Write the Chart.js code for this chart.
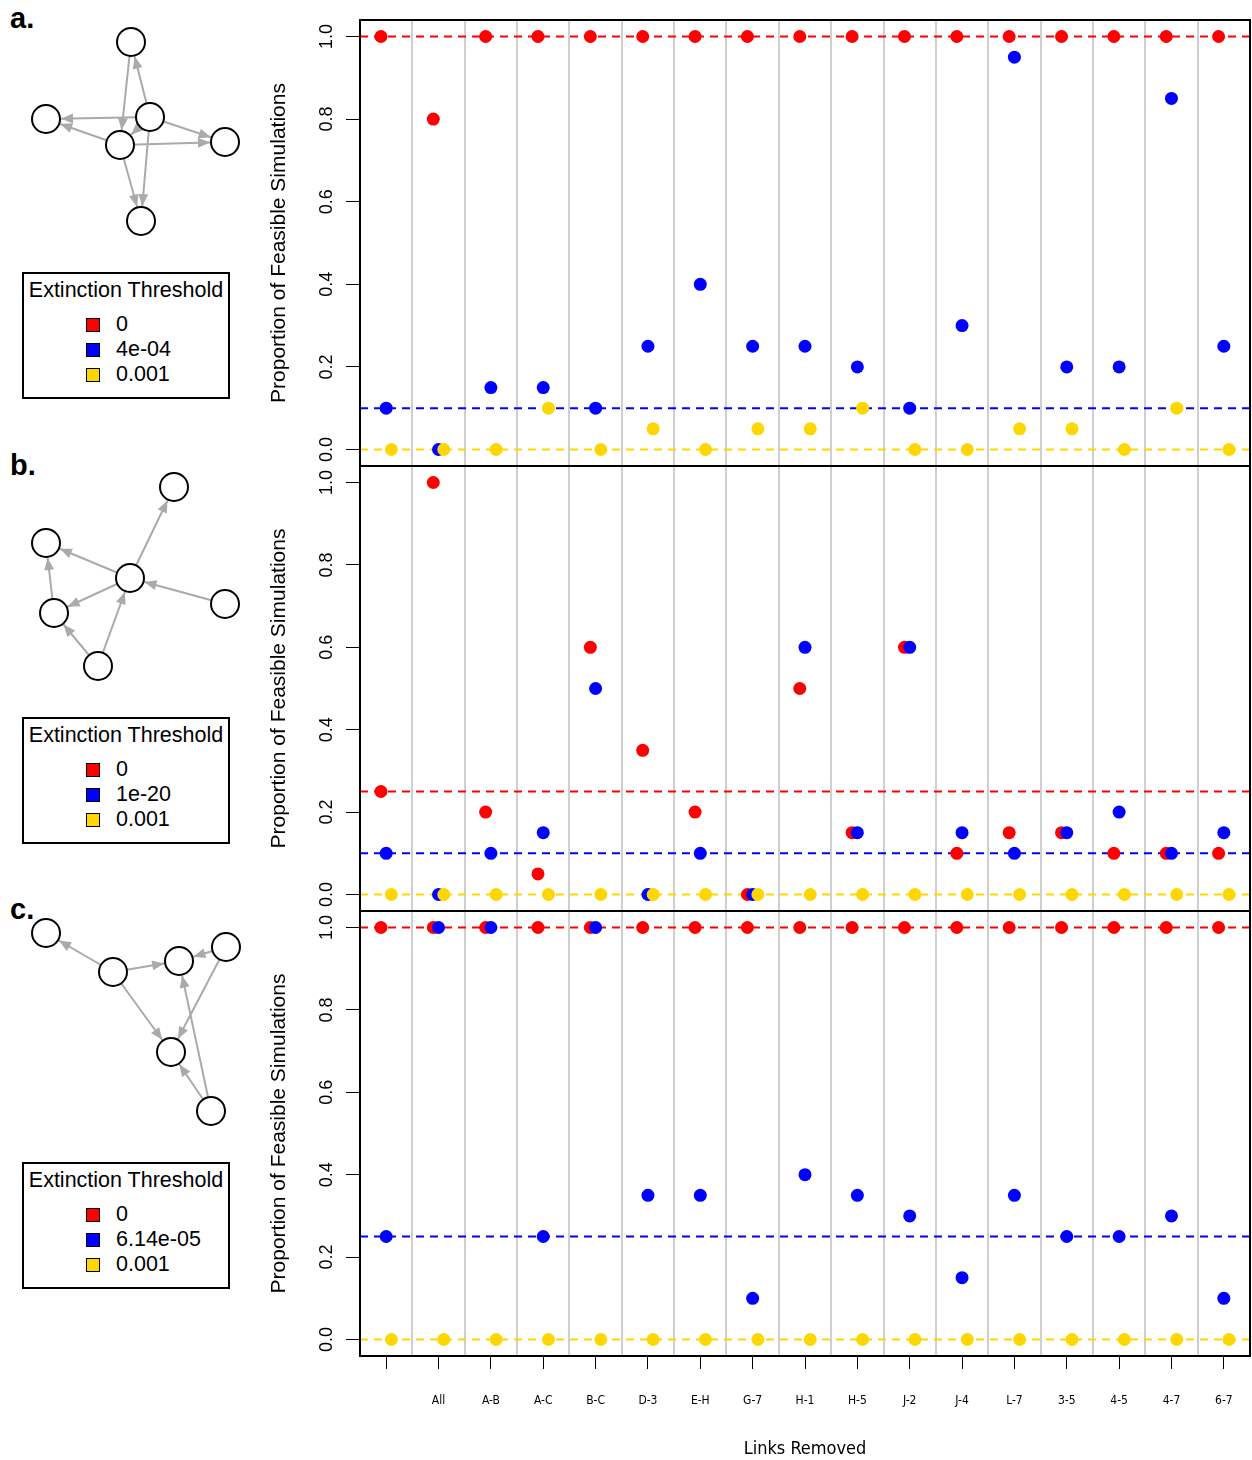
<!DOCTYPE html>
<html>
<head>
<meta charset="utf-8">
<script src="https://cdn.jsdelivr.net/npm/chart.js@4.4.1/dist/chart.umd.min.js"></script>
<style>
  body { margin: 0; background: #fff; width: 1252px; height: 1460px; position: relative; overflow: hidden;
         font-family: 'Liberation Sans', Arial, sans-serif; color: #000; }
  canvas { position: absolute; }
  .tag { position: absolute; left: 10px; font: bold 29px 'Liberation Sans', Arial, sans-serif; line-height: 30px; }
  .leg { position: absolute; left: 22px; width: 204px; height: 123px; border: 2px solid #000; }
  .leg .ttl { position: absolute; left: 0; right: 0; top: 4px; text-align: center; font-size: 21.5px; line-height: 24px; white-space: nowrap; }
  .leg .row { position: absolute; left: 62px; font-size: 21.5px; height: 24px; line-height: 24px; white-space: nowrap; }
  .leg .sw { display: inline-block; width: 12px; height: 12px; border: 1.5px solid #000; vertical-align: -1px; margin-right: 16px; }
</style>
</head>
<body>
<div class="tag" style="top:3px">a.</div>
<div class="tag" style="top:450px">b.</div>
<div class="tag" style="top:894px">c.</div>

<canvas id="netA" width="255" height="250" style="left:0;top:0"></canvas>
<canvas id="netB" width="255" height="250" style="left:0;top:445px"></canvas>
<canvas id="netC" width="255" height="250" style="left:0;top:890px"></canvas>

<div class="leg" id="legA" style="top:272px"></div>
<div class="leg" id="legB" style="top:717px"></div>
<div class="leg" id="legC" style="top:1162px"></div>

<canvas id="plotA" width="1002" height="486" style="left:250px;top:0"></canvas>
<canvas id="plotB" width="1002" height="485" style="left:250px;top:446px"></canvas>
<canvas id="plotC" width="1002" height="569" style="left:250px;top:891px"></canvas>

<script>
// ===== DATA =====
const linkLabels = ['', 'All', 'A-B', 'A-C', 'B-C', 'D-3', 'E-H', 'G-7', 'H-1', 'H-5', 'J-2', 'J-4', 'L-7', '3-5', '4-5', '4-7', '6-7'];
const yTicks = [0, 0.2, 0.4, 0.6, 0.8, 1.0];

// panel a
const redA    = [1, 0.8, 1, 1, 1, 1, 1, 1, 1, 1, 1, 1, 1, 1, 1, 1, 1];
const blueA   = [0.1, 0, 0.15, 0.15, 0.1, 0.25, 0.4, 0.25, 0.25, 0.2, 0.1, 0.3, 0.95, 0.2, 0.2, 0.85, 0.25];
const yellowA = [0, 0, 0, 0.1, 0, 0.05, 0, 0.05, 0.05, 0.1, 0, 0, 0.05, 0.05, 0, 0.1, 0];
const baseA   = [1, 0.1, 0];
const threshA = ['0', '4e-04', '0.001'];

// panel b
const redB    = [0.25, 1, 0.2, 0.05, 0.6, 0.35, 0.2, 0, 0.5, 0.15, 0.6, 0.1, 0.15, 0.15, 0.1, 0.1, 0.1];
const blueB   = [0.1, 0, 0.1, 0.15, 0.5, 0, 0.1, 0, 0.6, 0.15, 0.6, 0.15, 0.1, 0.15, 0.2, 0.1, 0.15];
const yellowB = [0, 0, 0, 0, 0, 0, 0, 0, 0, 0, 0, 0, 0, 0, 0, 0, 0];
const baseB   = [0.25, 0.1, 0];
const threshB = ['0', '1e-20', '0.001'];

// panel c
const redC    = [1, 1, 1, 1, 1, 1, 1, 1, 1, 1, 1, 1, 1, 1, 1, 1, 1];
const blueC   = [0.25, 1, 1, 0.25, 1, 0.35, 0.35, 0.1, 0.4, 0.35, 0.3, 0.15, 0.35, 0.25, 0.25, 0.3, 0.1];
const yellowC = [0, 0, 0, 0, 0, 0, 0, 0, 0, 0, 0, 0, 0, 0, 0, 0, 0];
const baseC   = [1, 0.25, 0];
const threshC = ['0', '6.14e-05', '0.001'];

// network layouts (node x, y inside each diagram) and directed edges [from, to]
const nodesA = [[131, 42], [46, 119], [150, 117], [120, 145], [225, 142], [141, 221]];
const edgesA = [[2, 0], [0, 3], [2, 1], [3, 1], [2, 4], [3, 4], [3, 5], [2, 5], [2, 3]];
const nodesB = [[174, 42], [46, 98], [130, 133], [225, 159], [54, 168], [98, 221]];
const edgesB = [[2, 0], [2, 1], [3, 2], [2, 4], [4, 1], [5, 4], [5, 2]];
const nodesC = [[46, 43], [113, 82], [179, 71], [226, 57], [171, 162], [211, 221]];
const edgesC = [[1, 0], [1, 2], [3, 2], [1, 4], [3, 4], [5, 2], [5, 4]];

// ===== STYLE =====
const RED = '#ff0000', BLUE = '#0000ff', GOLD = '#ffd700';
const SANS = "'Liberation Sans', Arial, sans-serif";
const NARROW = "'Liberation Sans Narrow', 'DejaVu Sans Condensed', sans-serif";
const NODE_R = 14;

// ===== LEGENDS =====
function buildLegend(id, labels) {
    const el = document.getElementById(id);
    let html = '<div class="ttl">Extinction Threshold</div>';
    [RED, BLUE, GOLD].forEach((c, i) => {
        html += `<div class="row" style="top:${38 + i * 25}px"><span class="sw" style="background:${c}"></span>${labels[i]}</div>`;
    });
    el.innerHTML = html;
}
buildLegend('legA', threshA);
buildLegend('legB', threshB);
buildLegend('legC', threshC);

// ===== NETWORK DIAGRAMS =====
function makeNetwork(id, nodes, edges) {
    const arrows = {
        id: 'arrows',
        beforeDatasetDraw(chart, args) {
            if (args.index !== 0) return;
            const { ctx } = chart;
            const sx = chart.scales.x, sy = chart.scales.y;
            ctx.save();
            ctx.fillStyle = '#aaaaaa';
            edges.forEach(([a, b]) => {
                const x0 = sx.getPixelForValue(nodes[a][0]), y0 = sy.getPixelForValue(nodes[a][1]);
                const x1 = sx.getPixelForValue(nodes[b][0]), y1 = sy.getPixelForValue(nodes[b][1]);
                const len = Math.hypot(x1 - x0, y1 - y0);
                const ux = (x1 - x0) / len, uy = (y1 - y0) / len;
                const tx = x1 - ux * (NODE_R + 1), ty = y1 - uy * (NODE_R + 1);
                const bx = tx - ux * 12, by = ty - uy * 12;
                ctx.beginPath();
                ctx.moveTo(tx, ty);
                ctx.lineTo(bx - uy * 5, by + ux * 5);
                ctx.lineTo(bx + uy * 5, by - ux * 5);
                ctx.closePath();
                ctx.fill();
            });
            ctx.restore();
        }
    };

    const datasets = [{
        data: nodes.map(([x, y]) => ({ x, y })),
        pointRadius: NODE_R,
        backgroundColor: '#ffffff',
        borderColor: '#000000',
        borderWidth: 2,
        order: 1,
        clip: false
    }];
    edges.forEach(([a, b]) => {
        datasets.push({
            data: [{ x: nodes[a][0], y: nodes[a][1] }, { x: nodes[b][0], y: nodes[b][1] }],
            showLine: true,
            borderColor: '#aaaaaa',
            borderWidth: 2,
            pointRadius: 0,
            order: 2,
            clip: false
        });
    });

    new Chart(document.getElementById(id), {
        type: 'scatter',
        data: { datasets },
        plugins: [arrows],
        options: {
            responsive: false,
            animation: false,
            events: [],
            layout: { padding: 0, autoPadding: false },
            plugins: { legend: { display: false }, tooltip: { enabled: false } },
            scales: {
                x: { type: 'linear', min: 0, max: 255, display: false },
                y: { type: 'linear', min: 0, max: 250, reverse: true, display: false }
            }
        }
    });
}
makeNetwork('netA', nodesA, edgesA);
makeNetwork('netB', nodesB, edgesB);
makeNetwork('netC', nodesC, edgesC);

// ===== SCATTER PANELS =====
const boxPlugin = {
    id: 'box',
    afterDraw(chart) {
        const { ctx, chartArea: a } = chart;
        ctx.save();
        ctx.strokeStyle = '#000';
        ctx.lineWidth = 2;
        ctx.strokeRect(a.left, a.top, a.right - a.left, a.bottom - a.top);
        ctx.restore();
    }
};

function pts(vals, dx) {
    return vals.map((v, i) => ({ x: i + 1 + dx, y: v }));
}
function hline(v, color) {
    return {
        data: [{ x: 0.5, y: v }, { x: 17.5, y: v }],
        showLine: true,
        borderColor: color,
        borderWidth: 2,
        borderDash: [8, 6],
        pointRadius: 0,
        order: 4
    };
}
function dots(vals, dx, color, order) {
    return { data: pts(vals, dx), backgroundColor: color, borderWidth: 0, pointRadius: 6.5, order };
}

function makePanel(id, red, blue, yellow, base, showX) {
    new Chart(document.getElementById(id), {
        type: 'scatter',
        data: {
            datasets: [
                dots(yellow, 0.1, GOLD, 1),
                dots(blue, 0, BLUE, 2),
                dots(red, -0.1, RED, 3),
                hline(base[0], RED),
                hline(base[1], BLUE),
                hline(base[2], GOLD)
            ]
        },
        plugins: [boxPlugin],
        options: {
            responsive: false,
            animation: false,
            events: [],
            layout: { padding: { top: 20, bottom: showX ? 0 : 20, left: 0, right: 2 }, autoPadding: false },
            plugins: { legend: { display: false }, tooltip: { enabled: false } },
            scales: {
                x: {
                    type: 'linear', min: 0.5, max: 17.5, display: showX,
                    afterBuildTicks: s => { s.ticks = linkLabels.map((_, i) => ({ value: i + 1 })); },
                    ticks: {
                        autoSkip: false, maxRotation: 0, color: '#000', padding: 25,
                        font: { family: NARROW, size: 12 },
                        callback: v => linkLabels[Math.round(v) - 1]
                    },
                    grid: { drawOnChartArea: false, tickLength: 13, color: '#000', lineWidth: 1 },
                    border: { display: false },
                    title: {
                        display: true, text: 'Links Removed', color: '#000',
                        font: { family: NARROW, size: 18 }, padding: { top: 0, bottom: 0 }
                    },
                    afterFit: s => {
                        s.height = showX ? 104 : 0;
                        s.paddingLeft = 0;
                        s.paddingRight = 0;
                    }
                },
                sep: {
                    type: 'linear', axis: 'x', position: 'top', min: 0.5, max: 17.5,
                    afterBuildTicks: s => { s.ticks = linkLabels.slice(1).map((_, i) => ({ value: i + 1.5 })); },
                    ticks: { display: false },
                    grid: { color: '#cfcfcf', lineWidth: 2, drawTicks: false },
                    border: { display: false },
                    afterFit: s => { s.height = 0; s.paddingLeft = 0; s.paddingRight = 0; }
                },
                y: {
                    type: 'linear', min: -0.04, max: 1.04,
                    afterBuildTicks: s => { s.ticks = yTicks.map(v => ({ value: v })); },
                    ticks: {
                        minRotation: 90, maxRotation: 90, crossAlign: 'center', padding: 6,
                        color: '#000', font: { family: SANS, size: 18 },
                        callback: v => v.toFixed(1)
                    },
                    grid: { drawOnChartArea: false, tickLength: 14, color: '#000', lineWidth: 1 },
                    border: { display: false },
                    title: {
                        display: true, text: 'Proportion of Feasible Simulations', color: '#000',
                        font: { family: SANS, size: 21 }, padding: { top: 17, bottom: 0 }
                    },
                    afterFit: s => { s.width = 110; }
                }
            }
        }
    });
}

makePanel('plotA', redA, blueA, yellowA, baseA, false);
makePanel('plotB', redB, blueB, yellowB, baseB, false);
makePanel('plotC', redC, blueC, yellowC, baseC, true);
</script>
</body>
</html>
